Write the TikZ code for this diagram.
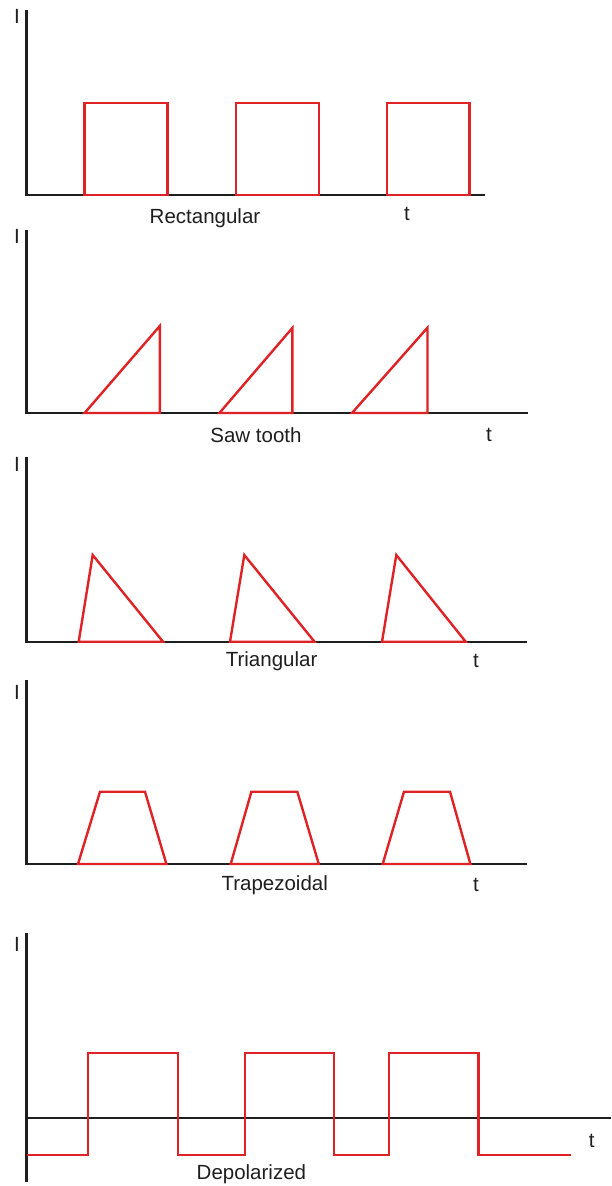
\documentclass[tikz,border=0pt]{standalone}
\usepackage{fontspec}
\setmainfont{Liberation Sans}
\definecolor{wave}{RGB}{222,34,38}
\definecolor{axis}{RGB}{30,30,30}
\begin{document}
\begin{tikzpicture}[x=1pt,y=-1pt,
  ax/.style={draw=axis,line width=2.3pt},
  wv/.style={draw=wave,line width=2.4pt,line join=miter},
  lbl/.style={font=\fontsize{20.5}{22}\selectfont,text=axis,inner sep=0pt}]
\useasboundingbox (0,0) rectangle (611,1186);
% ---------- Rectangular ----------
\coordinate (o1) at (26.5,195); \coordinate (y1) at (26.5,10); \coordinate (x1) at (485,195);
\draw[ax] (y1) -- (o1) -- (x1);
\foreach \a/\b in {84.6/167.6,235.8/318.8,387/469.6}
  \draw[wv] (\a,195) rectangle (\b,102.7);
\node[lbl] (I1) at (17,16) {I};
\node[lbl] (L1) at (205,218) {Rectangular};
\node[lbl] (t1) at (407,214) {t};
% ---------- Saw tooth ----------
\coordinate (o2) at (26.5,413); \coordinate (y2) at (26.5,230); \coordinate (x2) at (528,413);
\draw[ax] (y2) -- (o2) -- (x2);
\foreach \a/\b/\h in {84.6/159.8/326,219.4/292.3/328,352/427.5/327.7}
  \draw[wv] (\a,413) -- (\b,\h) -- (\b,413) -- cycle;
\node[lbl] (I2) at (17,236) {I};
\node[lbl] (L2) at (256,435) {Saw tooth};
\node[lbl] (t2) at (489,435) {t};
% ---------- Triangular ----------
\coordinate (o3) at (26.5,641.7); \coordinate (y3) at (26.5,457); \coordinate (x3) at (527,641.7);
\draw[ax] (y3) -- (o3) -- (x3);
\foreach \a/\p/\b in {78.7/92.7/163,230/244.3/314.5,382/396.3/465.7}
  \draw[wv] (\a,641.7) -- (\p,555) -- (\b,641.7) -- cycle;
\node[lbl] (I3) at (17,464) {I};
\node[lbl] (L3) at (271.6,661) {Triangular};
\node[lbl] (t3) at (476,661) {t};
% ---------- Trapezoidal ----------
\coordinate (o4) at (26.5,864); \coordinate (y4) at (26.5,680); \coordinate (x4) at (527,864);
\draw[ax] (y4) -- (o4) -- (x4);
\foreach \a/\b/\c/\d in {78/100/145/166.4,230.7/251.4/297.3/318.8,382.7/404/450/470.4}
  \draw[wv] (\a,864) -- (\b,791.7) -- (\c,791.7) -- (\d,864) -- cycle;
\node[lbl] (I4) at (17,692) {I};
\node[lbl] (L4) at (274.7,885) {Trapezoidal};
\node[lbl] (t4) at (476,885) {t};
% ---------- Depolarized ----------
\coordinate (y5t) at (26.5,933); \coordinate (y5b) at (26.5,1182);
\coordinate (z5l) at (26.5,1118.3); \coordinate (z5r) at (611,1118.3);
\draw[ax] (y5t) -- (y5b);
\draw[ax] (z5l) -- (z5r);
\draw[wv] (26.5,1155) -- (87.7,1155) -- (87.7,1052.7) -- (178,1052.7) -- (178,1155)
  -- (244.7,1155) -- (244.7,1052.7) -- (334,1052.7) -- (334,1155)
  -- (389,1155) -- (389,1052.7) -- (478.6,1052.7) -- (478.6,1155) -- (571,1155);
\node[lbl] (I5) at (17,944) {I};
\node[lbl] (L5) at (251.4,1174) {Depolarized};
\node[lbl] (t5) at (591.6,1141) {t};
\end{tikzpicture}
\end{document}
